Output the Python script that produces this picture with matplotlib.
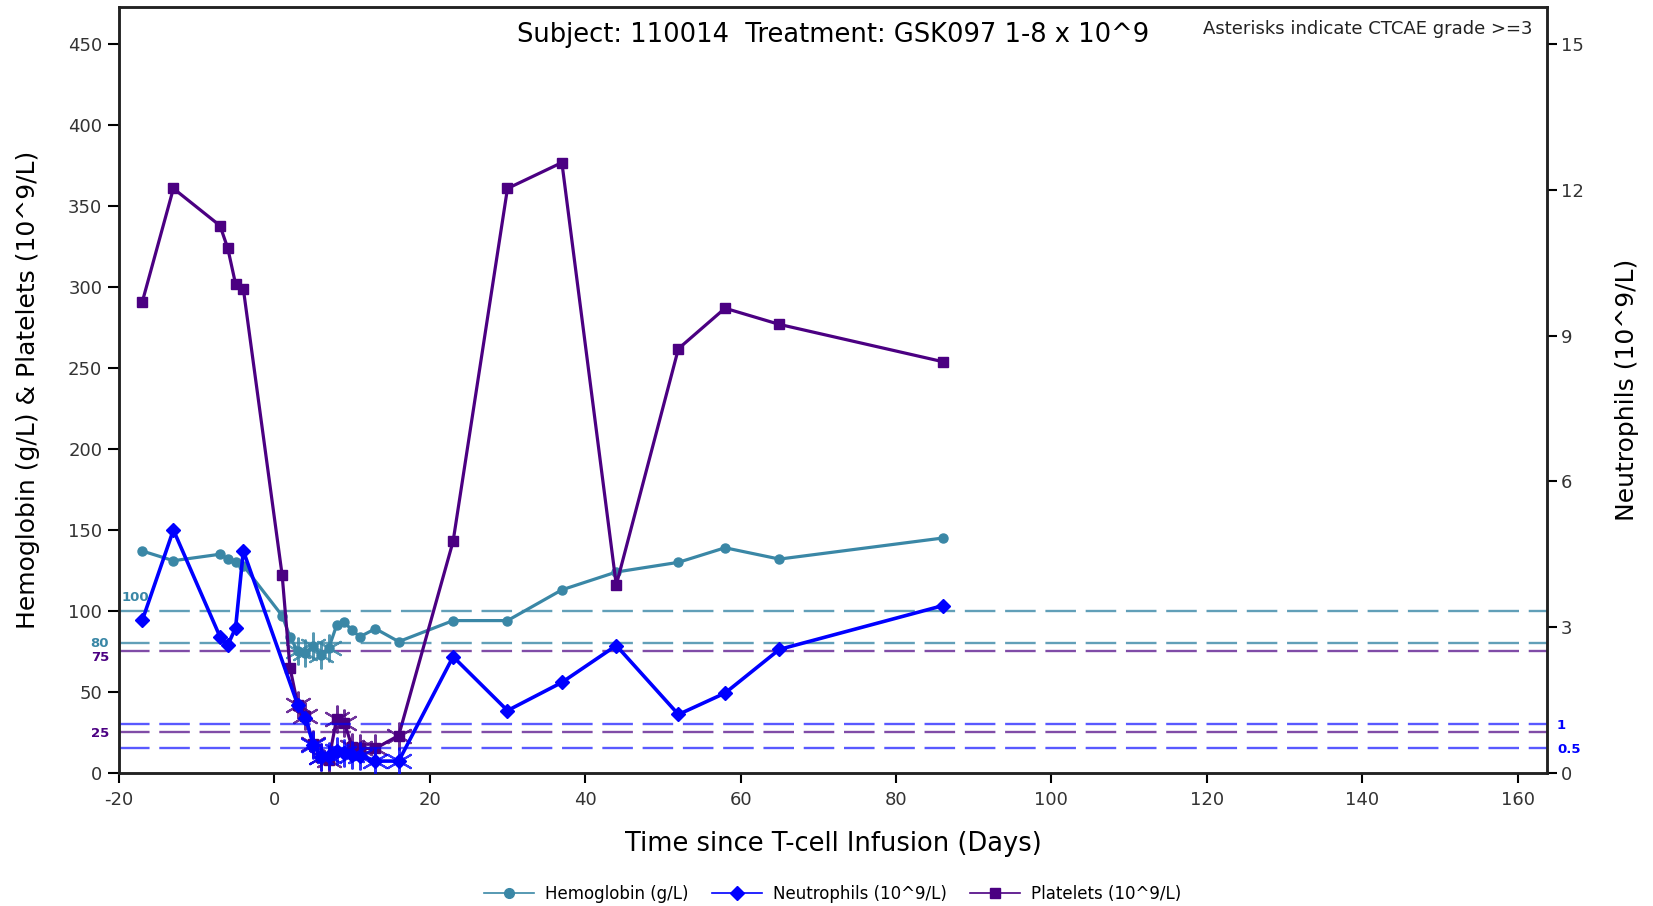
import numpy as np
import matplotlib
matplotlib.use('Agg')
from matplotlib import pyplot as plt
from matplotlib.lines import Line2D
from matplotlib import transforms

# values
hgb_days = [-17, -13, -7, -6, -5, -4, 1, 2, 3, 4, 5, 6, 7, 8, 9, 10, 11, 13, 16,
            23, 30, 37, 44, 52, 58, 65, 86]
hgb = [137, 131, 135, 132, 130, 128, 97, 84, 75, 74, 78, 73, 77, 91, 93, 88, 84, 89, 81,
       94, 94, 113, 124, 130, 139, 132, 145]

neut_days = [-17, -13, -7, -6, -5, -4, 3, 4, 5, 6, 7, 8, 9, 10, 11, 13, 16,
             23, 30, 37, 44, 52, 58, 65, 86]
neut = [3.14, 5.0, 2.80, 2.63, 2.98, 4.57, 1.40, 1.13, 0.58, 0.32, 0.34, 0.44, 0.41, 0.37,
        0.34, 0.24, 0.24, 2.39, 1.28, 1.86, 2.62, 1.20, 1.64, 2.54, 3.44]

plat_days = [-17, -13, -7, -6, -5, -4, 1, 2, 3, 4, 5, 6, 7, 8, 9, 10, 11, 13, 16,
             23, 30, 37, 44, 52, 58, 65, 86]
plat = [291, 361, 338, 324, 302, 299, 122, 65, 42, 35, 18, 10, 8, 33, 31, 16, 15, 15, 23,
        143, 361, 377, 116, 262, 287, 277, 254]

# CTCAE grade 3 cut-offs and reference lines
hgb_grade3 = 80
neut_grade3 = 1.0
plat_grade3 = 50
hgb_refs = [100, 80]
plat_refs = [75, 25]
neut_refs = [1, 0.5]

left_ticks = list(range(0, 451, 50))
right_ticks = list(range(0, 16, 3))
x_ticks = list(range(-20, 161, 20))

title = "Subject: 110014  Treatment: GSK097 1-8 x 10^9"
note = "Asterisks indicate CTCAE grade >=3"

HGB_C = '#3a87a6'
NEU_C = '#0000ff'
PLT_C = '#4b0082'

plt.rcParams['font.family'] = ['DejaVu Sans']
plt.rcParams['axes.unicode_minus'] = False
plt.rcParams['lines.scale_dashes'] = False
DASH = (22, 7)

fig = plt.figure(figsize=(16.53, 9.06), dpi=100)
ax = fig.add_axes([0.072, 0.1471, 0.8639, 0.8455])
ax2 = ax.twinx()

ymax = 473.3
ax.set_xlim(-20, 163.8)
ax.set_ylim(0, ymax)
ax2.set_ylim(0, ymax / 30)

# reference lines
for v in hgb_refs:
    ax.axhline(v, color=HGB_C, alpha=0.8, lw=1.7, dashes=DASH, zorder=1)
for v in plat_refs:
    ax.axhline(v, color=PLT_C, alpha=0.7, lw=1.7, dashes=DASH, zorder=1)
for v in neut_refs:
    ax2.axhline(v, color=NEU_C, alpha=0.65, lw=1.7, dashes=DASH, zorder=1)

star = (6, 2, 0)

# hemoglobin
ax.plot(hgb_days, hgb, color=HGB_C, lw=2.3, marker='o', ms=6.5, zorder=3)
hd, hv = np.array(hgb_days), np.array(hgb)
m = hv < hgb_grade3
ax.plot(hd[m], hv[m], ls='none', marker=star, ms=20, mew=1.5, color=HGB_C, alpha=0.85, zorder=3)

# platelets
ax.plot(plat_days, plat, color=PLT_C, lw=2.3, marker='s', ms=7, zorder=4)
pd_, pv = np.array(plat_days), np.array(plat)
m = pv < plat_grade3
ax.plot(pd_[m], pv[m], ls='none', marker=star, ms=20, mew=1.5, color=PLT_C, alpha=0.8, zorder=4)

# neutrophils (right axis)
ax2.plot(neut_days, neut, color=NEU_C, lw=2.6, marker='D', ms=7.5, zorder=5)
nd, nv = np.array(neut_days), np.array(neut)
m = nv < neut_grade3
ax2.plot(nd[m], nv[m], ls='none', marker=star, ms=20, mew=1.5, color=NEU_C, alpha=0.8, zorder=5)

# ticks and spines
ax.set_xticks(x_ticks)
ax.set_yticks(left_ticks)
ax2.set_yticks(right_ticks)
ax.tick_params(axis='y', direction='out', length=8, width=1.5, labelsize=13, pad=4, labelcolor='#333333')
ax.tick_params(axis='x', direction='out', length=7, width=1.5, labelsize=13, pad=6, labelcolor='#333333')
ax2.tick_params(axis='y', direction='out', length=7, width=1.5, labelsize=13, pad=3, labelcolor='#333333')
for a in (ax, ax2):
    for s in a.spines.values():
        s.set_linewidth(1.8)
        s.set_color('#222222')

ax.set_xlabel('Time since T-cell Infusion (Days)', fontsize=18.5)
ax.xaxis.set_label_coords(0.5, -0.0755)
ax.set_ylabel('Hemoglobin (g/L) & Platelets (10^9/L)', fontsize=18)
ax.yaxis.set_label_coords(-0.055, 0.5)
ax2.set_ylabel('Neutrophils (10^9/L)', fontsize=18)
ax2.yaxis.set_label_coords(1.0476, 0.5)

ax.text(0.5, 0.963, title, transform=ax.transAxes, ha='center', va='center', fontsize=18.5)
ax.text(0.9895, 0.971, note, transform=ax.transAxes, ha='right', va='center', fontsize=13, color='#222222')

# labels for the reference lines
tl = transforms.blended_transform_factory(ax.transAxes, ax.transData)
tr = transforms.blended_transform_factory(ax2.transAxes, ax2.transData)
lab = dict(fontsize=9.5, fontweight='bold', va='center')
ax.text(0.002, 108, '100', transform=tl, ha='left', color=HGB_C, **lab)
ax.text(-0.007, 80, '80', transform=tl, ha='right', color=HGB_C, clip_on=False, **lab)
ax.text(-0.007, 71, '75', transform=tl, ha='right', color=PLT_C, clip_on=False, **lab)
ax.text(-0.007, 24.5, '25', transform=tl, ha='right', color=PLT_C, clip_on=False, **lab)
ax2.text(1.007, 0.97, '1', transform=tr, ha='left', color=NEU_C, clip_on=False, **lab)
ax2.text(1.007, 0.48, '0.5', transform=tr, ha='left', color=NEU_C, clip_on=False, **lab)

handles = [
    Line2D([], [], color=HGB_C, lw=1.2, marker='o', ms=7),
    Line2D([], [], color=NEU_C, lw=1.2, marker='D', ms=7),
    Line2D([], [], color=PLT_C, lw=1.2, marker='s', ms=7),
]
labels = ['Hemoglobin (g/L)', 'Neutrophils (10^9/L)', 'Platelets (10^9/L)']
fig.legend(handles, labels, loc='center', bbox_to_anchor=(833 / 1653, 1 - 894 / 906), ncol=3,
           frameon=False, fontsize=12, handlelength=3.0, handletextpad=0.66, columnspacing=1.4)

fig.savefig('out.png', dpi=100)
